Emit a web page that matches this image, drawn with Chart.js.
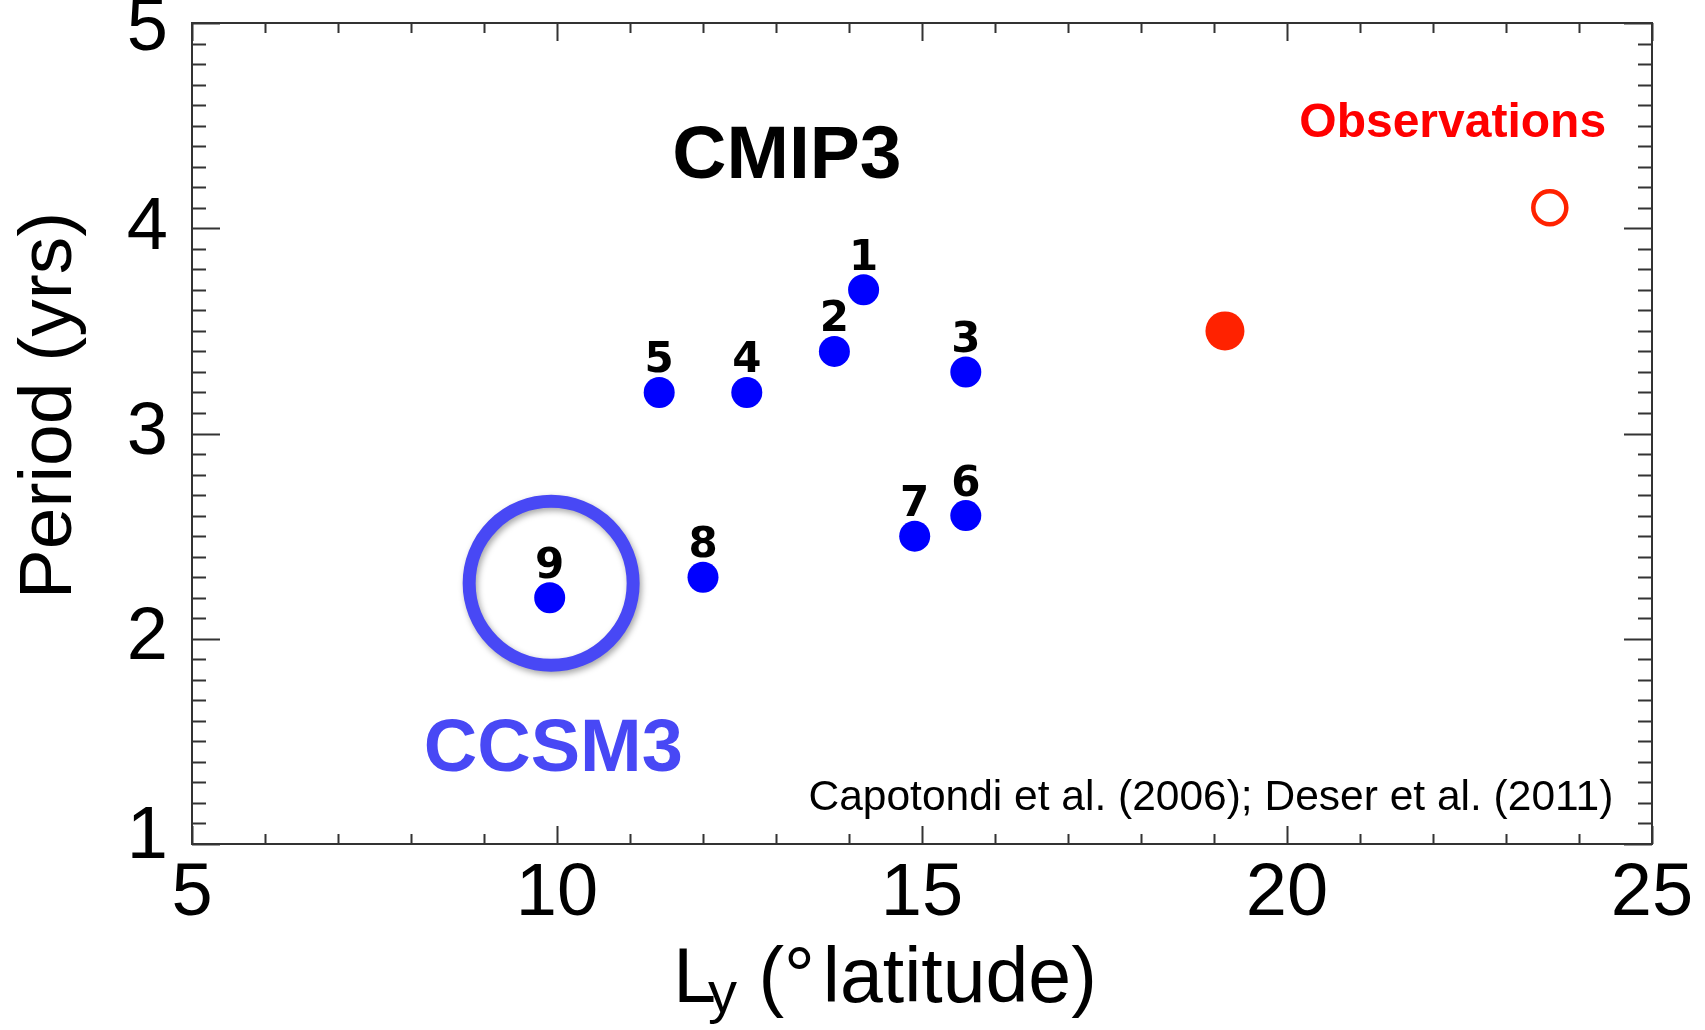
<!DOCTYPE html>
<html>
<head>
<meta charset="utf-8">
<script src="https://cdn.jsdelivr.net/npm/chart.js@4/dist/chart.umd.min.js"></script>
<style>
  html, body { margin: 0; padding: 0; background: #ffffff; }
  #wrap { width: 1705px; height: 1030px; position: relative; }
</style>
</head>
<body>
<div id="wrap"><canvas id="c" width="1705" height="1030"></canvas></div>
<script>
// CMIP3 model runs: meridional width Ly (deg latitude) vs ENSO period (yrs)
const modelLabels = ['1', '2', '3', '4', '5', '6', '7', '8', '9'];
const modelLy     = [14.2, 13.8, 15.6, 12.6, 11.4, 15.6, 14.9, 12.0, 9.9];
const modelPeriod = [3.7, 3.4, 3.3, 3.2, 3.2, 2.6, 2.5, 2.3, 2.2];

// Observational estimates
const obsFilledLy = [19.15];
const obsFilledPeriod = [3.5];
const obsOpenLy = [23.6];
const obsOpenPeriod = [4.1];

// Highlight ring around the CCSM3 run
const ringLy = [9.92];
const ringPeriod = [2.27];

// Axis ticks
const xTicks = [5, 10, 15, 20, 25];
const yTicks = [1, 2, 3, 4, 5];

const SANS = '"Liberation Sans", Arial, Helvetica, sans-serif';
const BLUE_NOTE = '#4848f5';

const toPoints = (xs, ys) => xs.map((x, i) => ({ x: x, y: ys[i] }));

// Free-standing text notes, anchored in data units
const notes = [
  { text: 'CMIP3', x: 13.15, y: 4.245, font: 'bold 75px ' + SANS, color: '#000000', align: 'center' },
  { text: 'Observations', x: 22.27, y: 4.445, font: 'bold 48px ' + SANS, color: '#ff0000', align: 'center' },
  { text: 'CCSM3', x: 9.95, y: 1.356, font: 'bold 74px ' + SANS, color: BLUE_NOTE, align: 'center' },
  { text: 'Capotondi et al. (2006); Deser et al. (2011)', x: 24.47, y: 1.166, font: '42.5px ' + SANS, color: '#000000', align: 'right' }
];

// Boxed frame with inward major/minor ticks on all four sides
const framePlugin = {
  id: 'frame',
  beforeDraw(chart) {
    // keep the end labels of the y axis inside the frame's height
    const items = chart.scales.y.getLabelItems();
    items.forEach(it => {
      if (it.label === '5') it.options.translation[1] += 7;
      if (it.label === '1') it.options.translation[1] -= 6;
    });
  },
  beforeDatasetsDraw(chart) {
    const { ctx, chartArea: a, scales } = chart;
    const xs = scales.x, ys = scales.y;
    ctx.save();
    ctx.strokeStyle = '#333333';
    ctx.lineWidth = 2;
    ctx.beginPath();
    for (let v = 5; v <= 25; v += 1) {
      const px = Math.round(xs.getPixelForValue(v)) + 0.5;
      const len = (v % 5 === 0) ? 18 : 10;
      ctx.moveTo(px, a.bottom); ctx.lineTo(px, a.bottom - len);
      ctx.moveTo(px, a.top); ctx.lineTo(px, a.top + len);
    }
    for (let k = 10; k <= 50; k += 1) {
      const v = k / 10;
      const py = Math.round(ys.getPixelForValue(v)) + 0.5;
      const len = (k % 10 === 0) ? 28 : 14;
      ctx.moveTo(a.left, py); ctx.lineTo(a.left + len, py);
      ctx.moveTo(a.right, py); ctx.lineTo(a.right - len, py);
    }
    ctx.stroke();
    ctx.strokeRect(a.left, a.top, a.right - a.left, a.bottom - a.top);
    ctx.restore();
  }
};

// Soft drop shadow for the CCSM3 ring
const ringShadow = {
  id: 'ringShadow',
  beforeDatasetDraw(chart, args) {
    if (chart.data.datasets[args.index].id !== 'ring') return;
    const ctx = chart.ctx;
    ctx.save();
    ctx.shadowColor = 'rgba(0,0,0,0.35)';
    ctx.shadowBlur = 6;
    ctx.shadowOffsetX = 2;
    ctx.shadowOffsetY = 3;
  },
  afterDatasetDraw(chart, args) {
    if (chart.data.datasets[args.index].id !== 'ring') return;
    chart.ctx.restore();
  }
};

// Model numbers above each CMIP3 point, notes, and axis titles
const textPlugin = {
  id: 'texts',
  afterDatasetsDraw(chart) {
    const { ctx, chartArea: a, scales } = chart;
    ctx.save();
    // model numbers
    const meta = chart.getDatasetMeta(0);
    ctx.font = 'bold 42px "DejaVu Sans", ' + SANS;
    ctx.fillStyle = '#000000';
    ctx.textAlign = 'center';
    ctx.textBaseline = 'alphabetic';
    meta.data.forEach((pt, i) => {
      ctx.fillText(modelLabels[i], pt.x, pt.y - 20);
    });
    // notes
    notes.forEach(n => {
      ctx.font = n.font;
      ctx.fillStyle = n.color;
      ctx.textAlign = n.align;
      ctx.fillText(n.text, scales.x.getPixelForValue(n.x), scales.y.getPixelForValue(n.y));
    });

    // y-axis title
    ctx.save();
    ctx.font = '75px ' + SANS;
    ctx.fillStyle = '#000000';
    ctx.textAlign = 'center';
    ctx.translate(a.left - 121, (a.top + a.bottom) / 2 - 28);
    ctx.rotate(-Math.PI / 2);
    ctx.fillText('Period (yrs)', 0, 0);
    ctx.restore();

    // x-axis title: L with subscript y, then (°latitude)
    const big = '77px ' + SANS, small = '58px ' + SANS;
    const parts = [
      { t: 'L', f: big, dy: 0, pre: 0 },
      { t: 'y', f: small, dy: 10, pre: -8 },
      { t: ' (', f: big, dy: 0, pre: 0 },
      { t: '\u00B0', f: big, dy: 0, pre: 0 },
      { t: 'latitude)', f: big, dy: 0, pre: 8 }
    ];
    let total = 0;
    parts.forEach(p => { ctx.font = p.f; p.w = ctx.measureText(p.t).width; total += p.pre + p.w; });
    let x = (a.left + a.right) / 2 - 37 - total / 2;
    const base = a.bottom + 158;
    ctx.textAlign = 'left';
    ctx.fillStyle = '#000000';
    parts.forEach(p => {
      x += p.pre;
      ctx.font = p.f;
      ctx.fillText(p.t, x, base + p.dy);
      x += p.w;
    });
    ctx.restore();
  }
};

const tickFont = { family: SANS, size: 74 };

new Chart(document.getElementById('c'), {
  type: 'scatter',
  data: {
    datasets: [
      {
        label: 'CMIP3',
        data: toPoints(modelLy, modelPeriod),
        backgroundColor: '#0000ff',
        borderColor: '#0000ff',
        borderWidth: 0,
        pointRadius: 15.5
      },
      {
        label: 'Observations (filled)',
        data: toPoints(obsFilledLy, obsFilledPeriod),
        backgroundColor: '#ff2200',
        borderColor: '#ff2200',
        borderWidth: 0,
        pointRadius: 19.5
      },
      {
        label: 'Observations (open)',
        data: toPoints(obsOpenLy, obsOpenPeriod),
        backgroundColor: 'rgba(0,0,0,0)',
        borderColor: '#ff2200',
        borderWidth: 4.5,
        pointRadius: 16.5
      },
      {
        id: 'ring',
        label: 'CCSM3',
        data: toPoints(ringLy, ringPeriod),
        backgroundColor: 'rgba(0,0,0,0)',
        borderColor: BLUE_NOTE,
        borderWidth: 13,
        pointRadius: 82
      }
    ]
  },
  options: {
    responsive: false,
    animation: false,
    devicePixelRatio: 1,
    events: [],
    layout: { autoPadding: false, padding: { top: 23, right: 53, bottom: 0, left: 0 } },
    plugins: { legend: { display: false }, tooltip: { enabled: false } },
    scales: {
      x: {
        type: 'linear', min: 5, max: 25,
        afterBuildTicks: s => { s.ticks = xTicks.map(v => ({ value: v })); },
        afterFit: s => { s.height = 186; s.paddingLeft = 0; s.paddingRight = 0; },
        ticks: { font: tickFont, color: '#000000', padding: 6, maxRotation: 0, autoSkip: false },
        grid: { display: false, drawTicks: false },
        border: { display: false }
      },
      y: {
        type: 'linear', min: 1, max: 5,
        afterBuildTicks: s => { s.ticks = yTicks.map(v => ({ value: v })); },
        afterFit: s => { s.width = 192; s.paddingTop = 0; s.paddingBottom = 0; },
        ticks: { font: tickFont, color: '#000000', padding: 24, autoSkip: false },
        grid: { display: false, drawTicks: false },
        border: { display: false }
      }
    }
  },
  plugins: [framePlugin, ringShadow, textPlugin]
});
</script>
</body>
</html>
